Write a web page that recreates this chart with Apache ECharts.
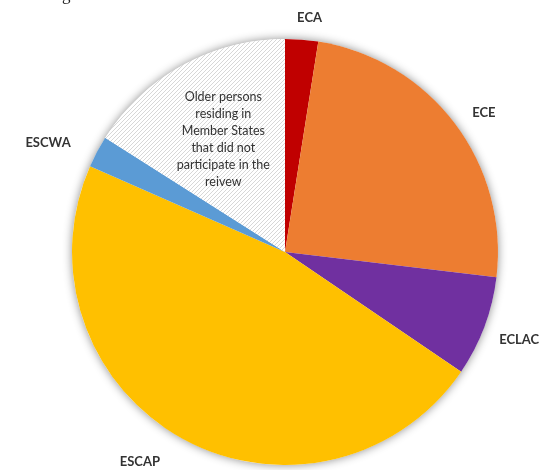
<!DOCTYPE html>
<html>
<head>
<meta charset="utf-8">
<script src="https://cdn.jsdelivr.net/npm/echarts@6/dist/echarts.min.js"></script>
<style>html,body{margin:0;padding:0;background:#fff}#c{width:550px;height:470px}</style>
</head>
<body>
<div id="c"></div>
<script>
// ---- data ----
const categories = ['ECA', 'ECE', 'ECLAC', 'ESCAP', 'ESCWA',
  'Older persons\nresiding in\nMember States\nthat did not\nparticipate in the\nreivew'];
const values = [2.5, 24.4, 7.6, 47.1, 2.4, 16.0];
const colors = ['#C00000', '#ED7D31', '#7030A0', '#FFC000', '#5B9BD5', null];

// ---- layout ----
const CX = 285, CY = 252, R = 213;
// [extra radial distance, angular nudge in degrees] for outside labels
const labelNudge = [[22, 1.5], [30, 2], [37, 0], [42, 5.7], [48, -3.3], [-85, 0]];

// hatch pattern for the last slice
const pc = document.createElement('canvas');
pc.width = 4; pc.height = 4;
const g = pc.getContext('2d');
g.fillStyle = '#ffffff'; g.fillRect(0, 0, 4, 4);
g.strokeStyle = '#d2d2d2'; g.lineWidth = 0.9;
g.beginPath();
g.moveTo(0, 4); g.lineTo(4, 0);
g.moveTo(-1, 1); g.lineTo(1, -1);
g.moveTo(3, 5); g.lineTo(5, 3);
g.stroke();

const total = values.reduce((a, b) => a + b, 0);
const mids = [];
let acc = 0;
values.forEach(v => { mids.push((acc + v / 2) / total * 360); acc += v; });

const data = categories.map((c, i) => ({
  name: c,
  value: values[i],
  itemStyle: { color: colors[i] ? colors[i] : { image: pc, repeat: 'repeat' } },
  label: i === 5 ? {
    fontSize: 12.5, fontWeight: 'normal', color: '#333', lineHeight: 17, align: 'center'
  } : {}
}));

const chart = echarts.init(document.getElementById('c'), null, { renderer: 'canvas' });
chart.setOption({
  animation: false,
  backgroundColor: '#fff',
  graphic: [{
    type: 'text', left: 62, top: -13,
    style: { text: 'g', font: '17px "Liberation Serif"', fill: '#222' }
  }],
  series: [
    {
      type: 'pie', silent: true, z: 1,
      center: [CX, CY], radius: R,
      label: { show: false }, labelLine: { show: false },
      itemStyle: { color: '#fff', shadowBlur: 10, shadowColor: 'rgba(0,0,0,0.45)' },
      data: [{ value: 1 }]
    },
    {
      type: 'pie', z: 2,
      center: [CX, CY], radius: R,
      startAngle: 90, clockwise: true,
      avoidLabelOverlap: false,
      label: {
        show: true, position: 'outside', formatter: '{b}',
        overflow: 'none', width: 200,
        fontFamily: 'Lato', fontWeight: 'bold', fontSize: 13, color: '#333'
      },
      labelLine: { show: false },
      labelLayout: function (p) {
        const i = p.dataIndex;
        const a = (mids[i] + labelNudge[i][1]) * Math.PI / 180;
        const d = R + labelNudge[i][0];
        return {
          x: CX + d * Math.sin(a),
          y: CY - d * Math.cos(a),
          align: 'center', verticalAlign: 'middle',
          hideOverlap: false
        };
      },
      data: data
    }
  ]
});
</script>
</body>
</html>
